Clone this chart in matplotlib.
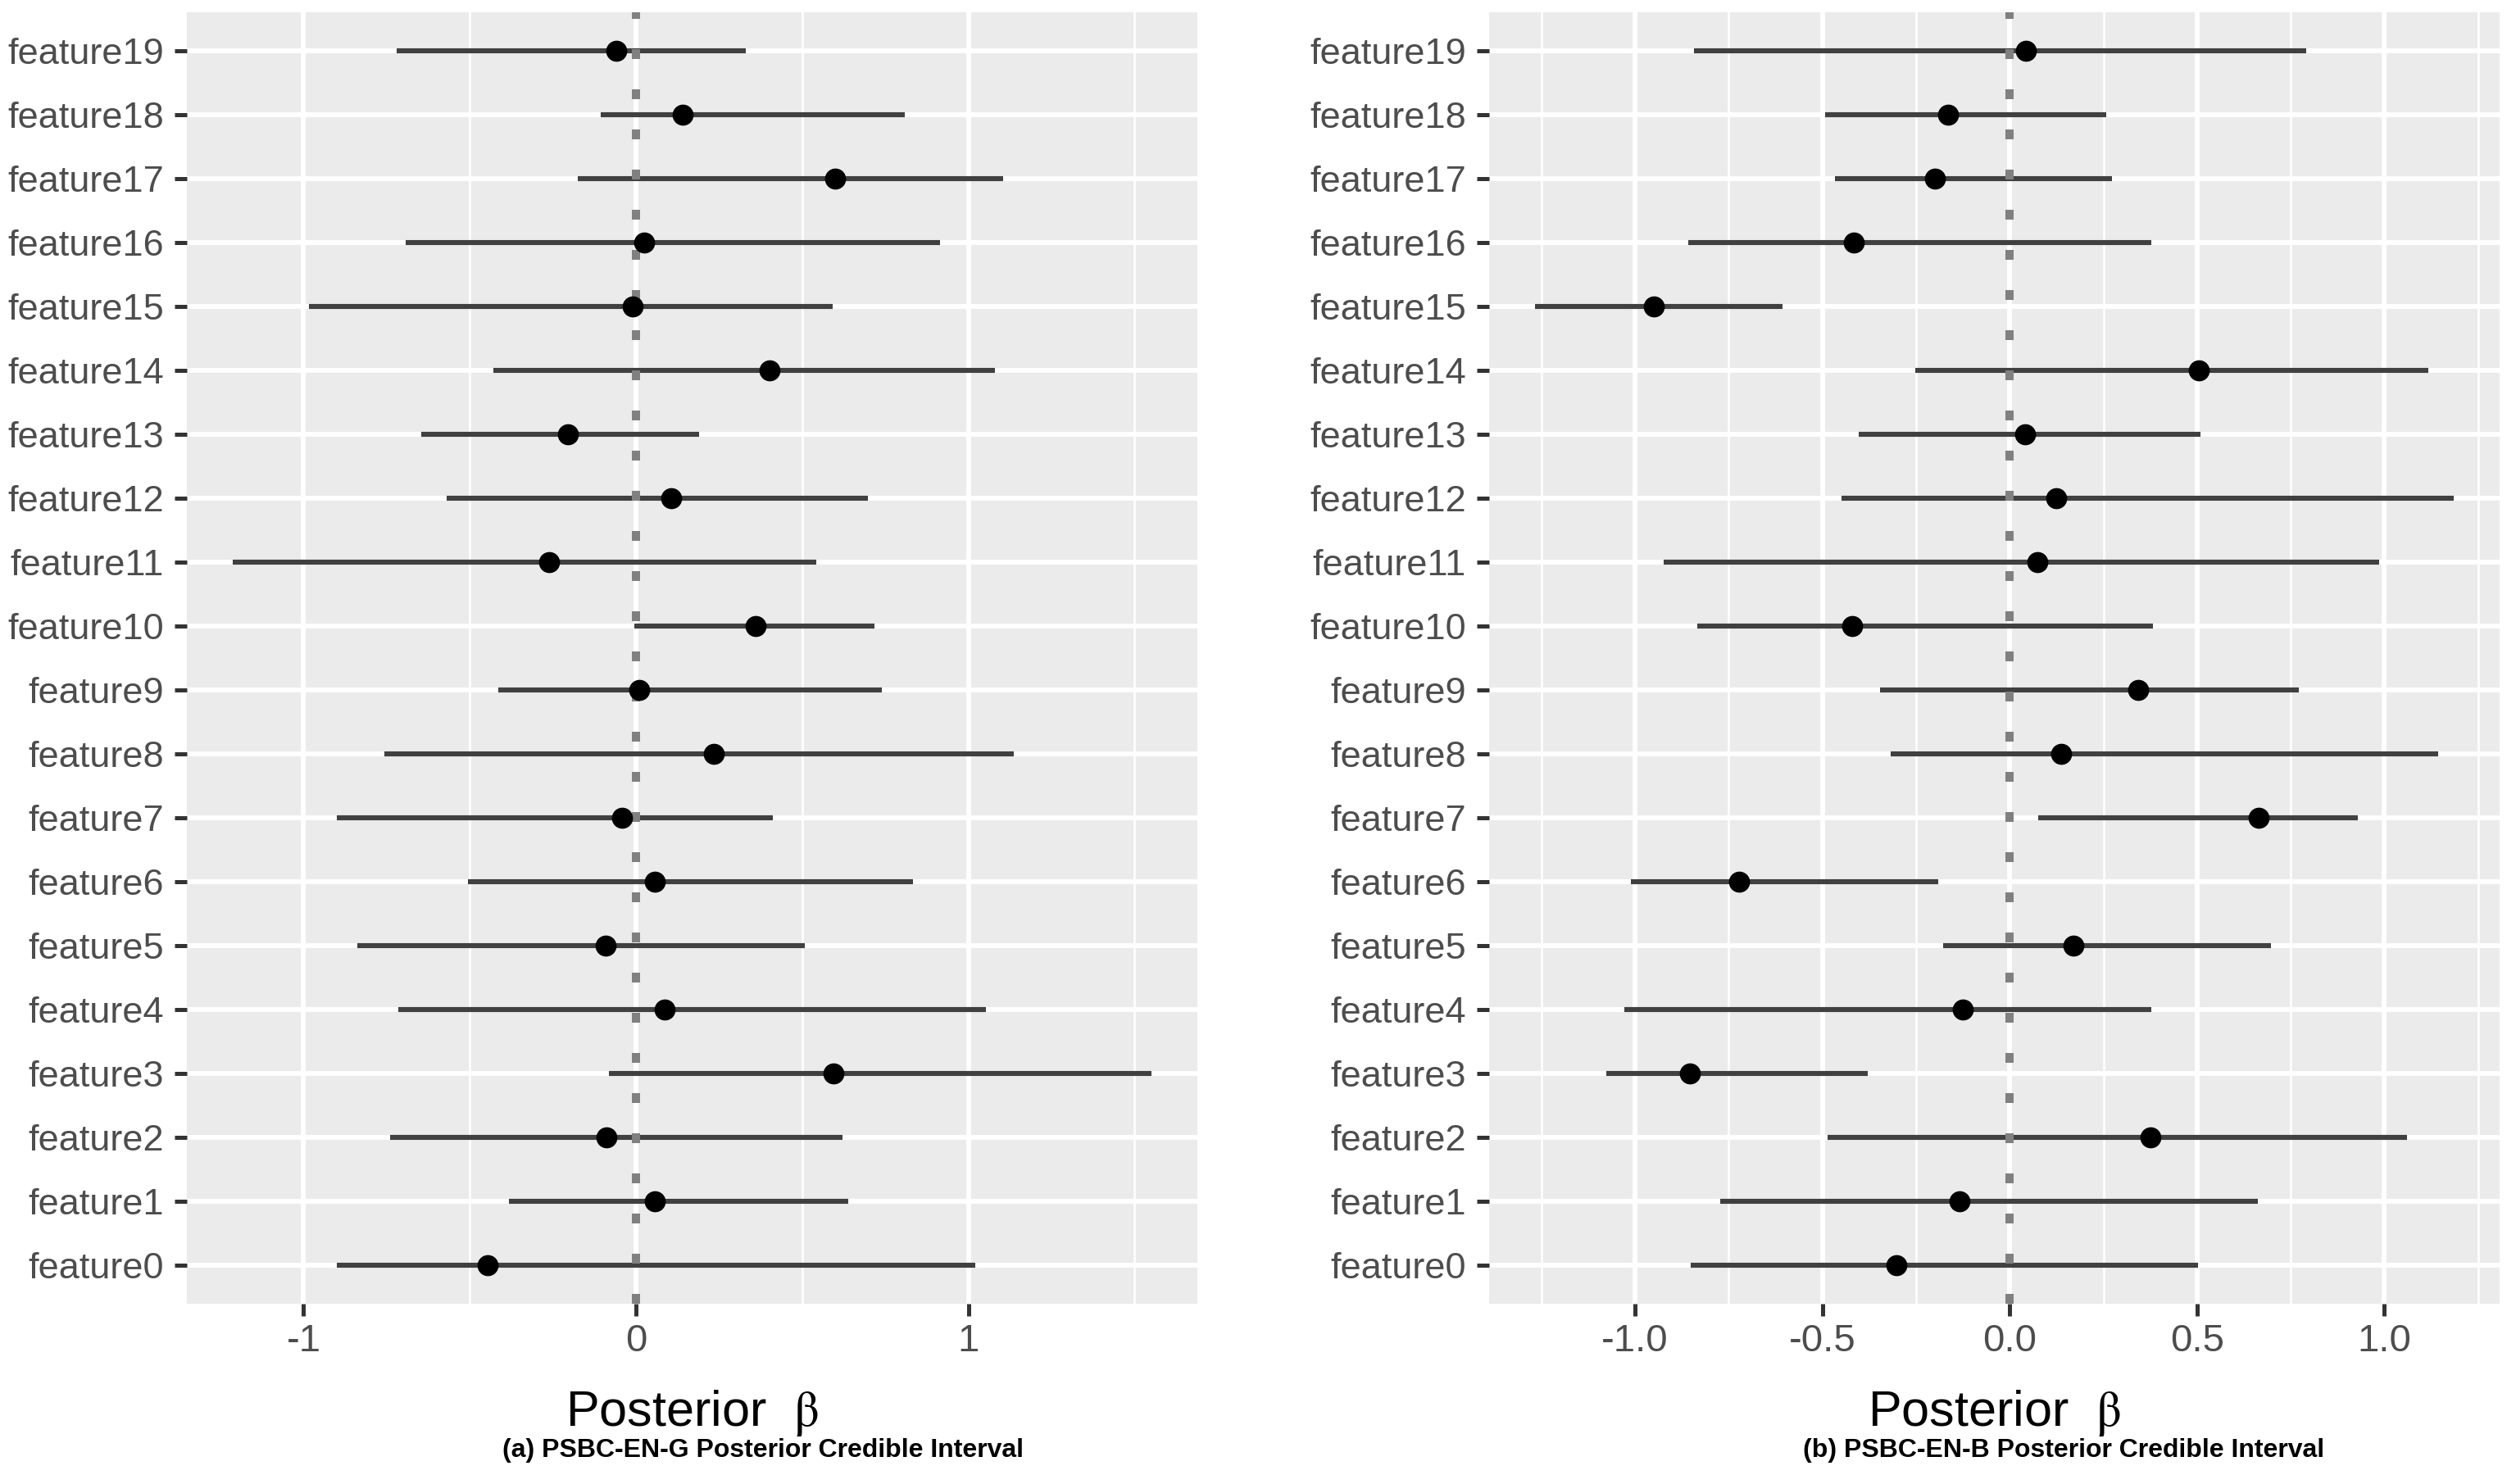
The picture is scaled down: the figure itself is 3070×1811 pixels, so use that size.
import matplotlib
matplotlib.use("Agg")
import matplotlib.pyplot as plt
from matplotlib.ticker import FixedLocator

plt.rcParams['font.family'] = ['Liberation Sans', 'DejaVu Sans']
plt.rcParams['mathtext.fontset'] = 'stix'
plt.rcParams['axes.unicode_minus'] = False

features = ["feature%d" % i for i in range(20)]

# panel (a) PSBC-EN-G, feature0 .. feature19
mean_a = [-0.447, 0.056, -0.089, 0.594, 0.087, -0.092, 0.056, -0.041, 0.234, 0.010,
          0.360, -0.261, 0.106, -0.205, 0.401, -0.010, 0.024, 0.599, 0.140, -0.060]
low_a = [-0.899, -0.382, -0.739, -0.082, -0.715, -0.838, -0.505, -0.899, -0.756, -0.413,
         -0.005, -1.213, -0.570, -0.645, -0.428, -0.983, -0.693, -0.176, -0.106, -0.720]
high_a = [1.022, 0.638, 0.621, 1.551, 1.053, 0.507, 0.833, 0.411, 1.138, 0.739,
          0.717, 0.543, 0.698, 0.191, 1.080, 0.592, 0.915, 1.104, 0.809, 0.331]

# panel (b) PSBC-EN-B
mean_b = [-0.302, -0.135, 0.375, -0.853, -0.126, 0.171, -0.722, 0.665, 0.137, 0.343,
          -0.420, 0.073, 0.124, 0.041, 0.504, -0.950, -0.416, -0.199, -0.165, 0.043]
low_b = [-0.851, -0.772, -0.487, -1.076, -1.029, -0.178, -1.012, 0.075, -0.317, -0.347,
         -0.834, -0.924, -0.448, -0.403, -0.253, -1.267, -0.857, -0.467, -0.493, -0.842]
high_b = [0.502, 0.662, 1.061, -0.379, 0.379, 0.697, -0.191, 0.930, 1.143, 0.772,
          0.382, 0.986, 1.185, 0.510, 1.117, -0.607, 0.379, 0.274, 0.257, 0.791]

ticks_a = [-1, 0, 1]
tick_labels_a = ["-1", "0", "1"]
minor_a = [-0.5, 0.5, 1.5]
ticks_b = [-1.0, -0.5, 0.0, 0.5, 1.0]
tick_labels_b = ["-1.0", "-0.5", "0.0", "0.5", "1.0"]
minor_b = [-1.25, -0.75, -0.25, 0.25, 0.75, 1.25]

captions = ["(a) PSBC-EN-G Posterior Credible Interval",
            "(b) PSBC-EN-B Posterior Credible Interval"]

fig = plt.figure(figsize=(30.7, 18.11), dpi=100)

W, H = 3070.0, 1811.0
panels = [
    (228, mean_a, low_a, high_a, ticks_a, tick_labels_a, minor_a, 931),
    (1817, mean_b, low_b, high_b, ticks_b, tick_labels_b, minor_b, 2518),
]

for k, (left, means, lows, highs, ticks, tlabels, minors, cap_x) in enumerate(panels):
    ax = fig.add_axes([left / W, 1 - 1591 / H, 1233 / W, 1576 / H])
    ax.set_facecolor("#EBEBEB")
    for s in ax.spines.values():
        s.set_visible(False)

    y = list(range(len(features)))
    ax.hlines(y, lows, highs, color="#404040", lw=4.4, zorder=3)
    ax.axvline(0, color="#808080", lw=7.2, ls=(0, (1.2, 3.7)),
               dash_capstyle="butt", zorder=4)
    ax.plot(means, y, "o", color="black", ms=17.5, zorder=5)

    lo, hi = min(lows), max(highs)
    pad = 0.05 * (hi - lo)
    ax.set_xlim(lo - pad, hi + pad)
    ax.set_ylim(-0.6, len(features) - 0.4)

    ax.set_yticks(y)
    ax.set_yticklabels(features)
    ax.set_xticks(ticks)
    ax.set_xticklabels(tlabels)
    ax.xaxis.set_minor_locator(FixedLocator(minors))

    ax.set_axisbelow(True)
    ax.grid(which="major", color="white", lw=4.2)
    ax.grid(which="minor", axis="x", color="white", lw=1.8)
    ax.tick_params(which="major", length=11, width=3.6, color="#333333",
                   labelcolor="#4D4D4D", labelsize=34)
    ax.tick_params(axis="y", pad=9, labelsize=32.5)
    ax.tick_params(axis="x", pad=6)
    ax.tick_params(which="minor", length=0)

    cx = (left + 1233 / 2) / W
    fig.text(cx, 71 / H, "Posterior  $\\mathrm{\\beta}$", ha="center",
             va="baseline", fontsize=44, color="black")
    fig.text(cap_x / W, 33 / H, captions[k], ha="center", va="baseline",
             fontsize=23, fontweight="bold", color="black")

fig.savefig("out.png", dpi=100, facecolor="white")
